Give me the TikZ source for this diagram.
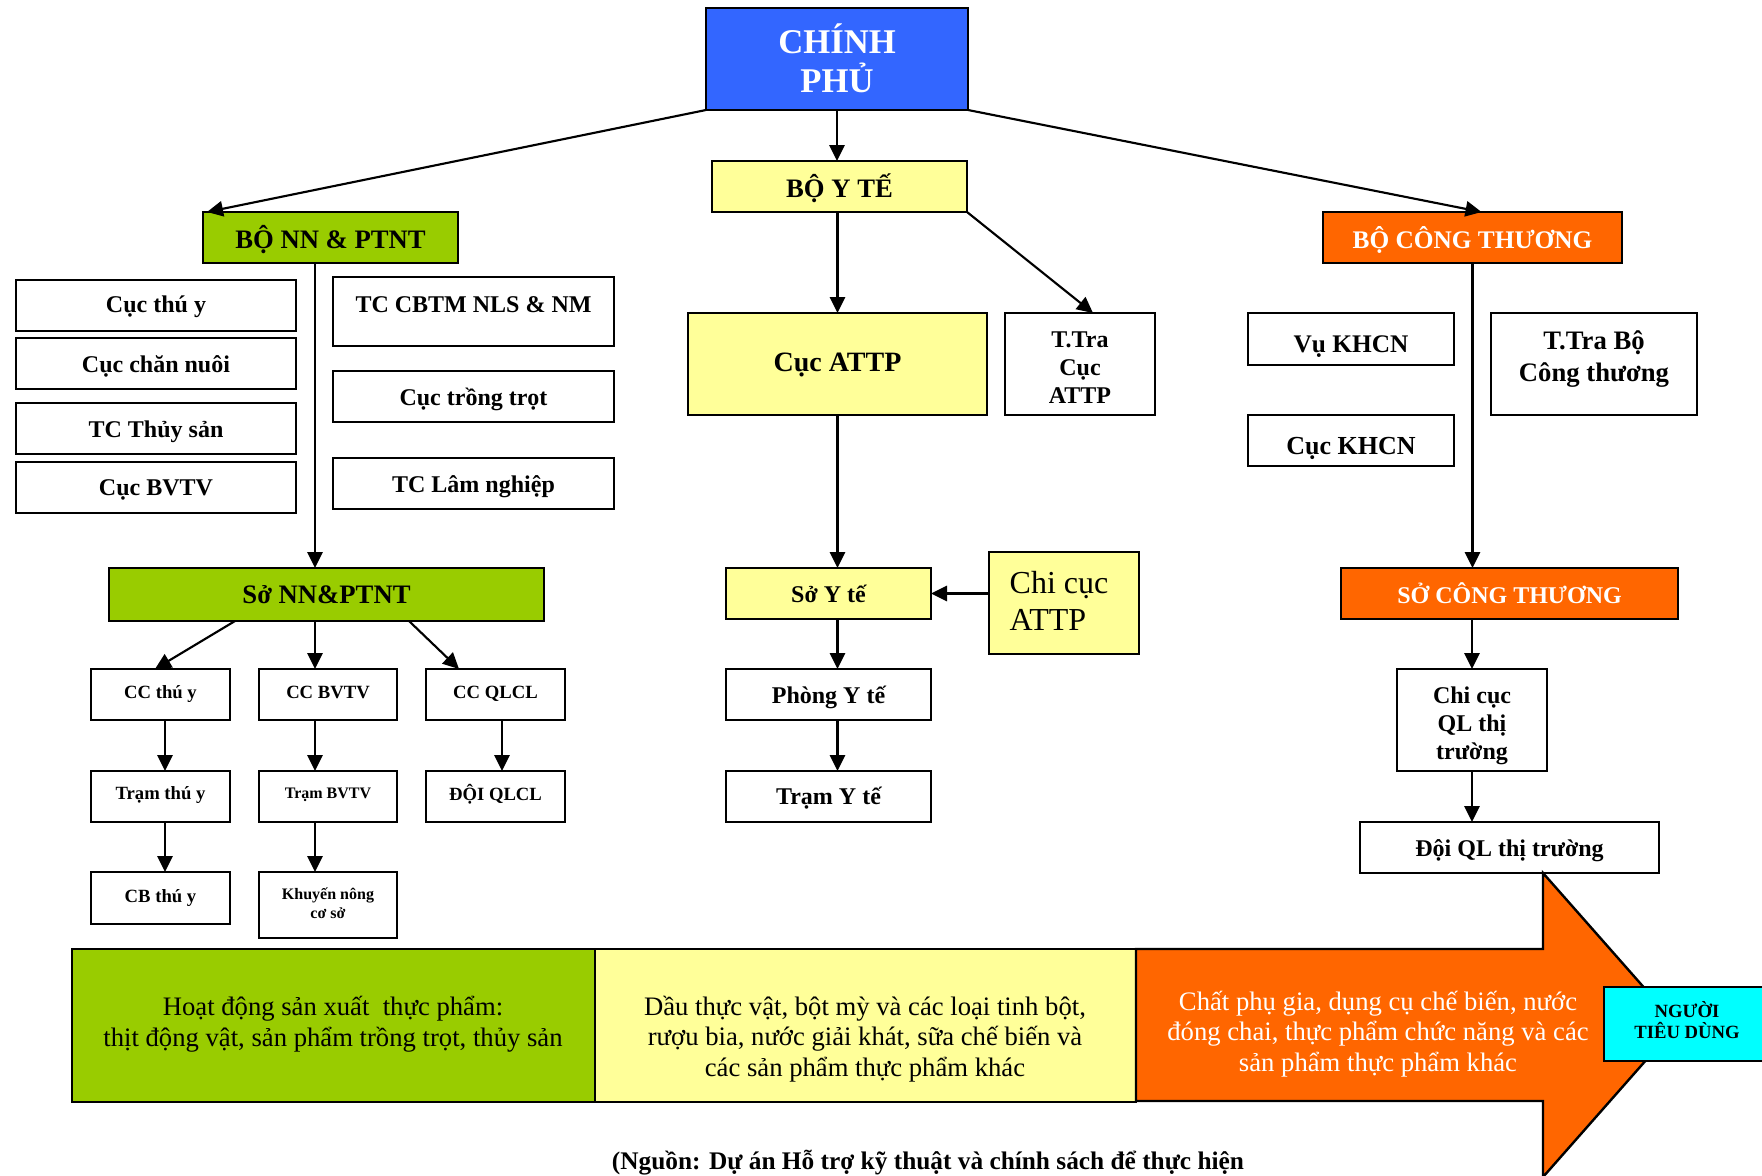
\documentclass[tikz,border=0pt]{standalone}
\usepackage{fontspec}
\setmainfont{Liberation Serif}
\usetikzlibrary{arrows.meta,calc}
\definecolor{cpblue}{HTML}{3366FF}
\definecolor{ylw}{HTML}{FFFF99}
\definecolor{grn}{HTML}{99CC00}
\definecolor{org}{HTML}{FF6600}
\definecolor{cyn}{HTML}{00FFFF}
% \bx[text shift down]{name}{x1}{y1}{x2}{y2}{style}{text}
\newcommand\bx[8][0]{%
  \node[#7, minimum width={(#5-#3)*0.75pt}, minimum height={(#6-#4)*0.75pt}] (#2) at ({(#3+#5)/2},{(#4+#6)/2}) {};
  \node[#7, draw=none, fill=none, minimum width=0pt, minimum height=0pt] (#2t) at ({(#3+#5)/2},{(#4+#6)/2+#1}) {#8};}
\newcommand\fs[2]{\fontsize{#1}{#2}\selectfont}
\begin{document}
\begin{tikzpicture}[x=0.75pt,y=-0.75pt,
  box/.style={draw, line width=1.5pt, inner sep=0pt, outer sep=0pt, align=center, fill=white, font=\bfseries\fs{18}{21}},
  band/.style={draw, line width=1.8pt, inner sep=0pt, outer sep=0pt},
  bandtext/.style={align=center, font=\fs{20}{23}},
  arr/.style={line width=1.6pt, -{Triangle[length=12pt,width=11.5pt]}}]
\useasboundingbox (0,0) rectangle (1762,1175);
\fill[white] (0,0) rectangle (1762,1175);

% top level
\bx[-1]{CP}{706}{8}{968}{110}{box, fill=cpblue, text=white, font=\bfseries\fs{26}{29}}{CHÍNH\\PHỦ}
\bx[2]{BYT}{712}{161}{967}{212}{box, fill=ylw, font=\bfseries\fs{20}{24}}{BỘ Y TẾ}
\bx[2]{BNN}{203}{212}{458}{263}{box, fill=grn, font=\bfseries\fs{20}{24}}{BỘ NN \& PTNT}
\bx[2]{BCT}{1323}{212}{1622}{263}{box, fill=org, text=white, font=\bfseries\fs{19}{23}}{BỘ CÔNG THƯƠNG}

% NN branch
\bx[1]{L1}{16}{280}{296}{331}{box}{Cục thú y}
\bx[3]{L2}{16}{338}{296}{389}{box}{Cục chăn nuôi}
\bx[3]{L3}{16}{403}{296}{454}{box}{TC Thủy sản}
\bx[2]{L4}{16}{462}{296}{513}{box}{Cục BVTV}
\node[box, minimum width={281*0.75pt}, minimum height={69*0.75pt}] (R1) at (473.5,311.5) {};
\node[font=\bfseries\fs{18}{21}, anchor=base, inner sep=0pt] (R1t) at (473.5,312) {TC CBTM NLS \& NM};
\bx[3]{R2}{333}{371}{614}{422}{box}{Cục trồng trọt}
\bx[3]{R3}{333}{458}{614}{509}{box}{TC Lâm nghiệp}

\bx{SNN}{109}{568}{544}{621}{box, fill=grn, font=\bfseries\fs{20}{24}}{Sở NN\&PTNT}
\bx{C1}{91}{669}{230}{720}{box, font=\bfseries\fs{14}{16}}{CC thú y}
\bx[-2]{C2}{259}{669}{397}{720}{box, font=\bfseries\fs{14}{16}}{CC BVTV}
\bx[-1]{C3}{426}{669}{565}{720}{box, font=\bfseries\fs{14}{16}}{CC QLCL}
\bx[-1]{T1}{91}{771}{230}{822}{box, font=\bfseries\fs{14}{16}}{Trạm thú y}
\bx[-2]{T2}{259}{771}{397}{822}{box, font=\bfseries\fs{12}{14}}{Trạm BVTV}
\bx[-2]{T3}{426}{771}{565}{822}{box, font=\bfseries\fs{14}{16}}{ĐỘI QLCL}
\bx{B1}{91}{872}{230}{924}{box, font=\bfseries\fs{14}{16}}{CB thú y}
\bx[-2]{B2}{259}{872}{397}{938}{box, font=\bfseries\fs{12}{14}}{Khuyến nông\\cơ sở}

% Y te branch
\bx[1]{CA}{688}{313}{987}{415}{box, fill=ylw, font=\bfseries\fs{21}{25}}{Cục ATTP}
\bx[4]{TT}{1005}{313}{1155}{415}{box}{T.Tra\\Cục\\ATTP}
\bx{SYT}{726}{568}{931}{619}{box, fill=ylw}{Sở Y tế}
\bx[3]{PYT}{726}{669}{931}{720}{box}{Phòng Y tế}
\bx[2]{TYT}{726}{771}{931}{822}{box}{Trạm Y tế}
\node[box, fill=ylw, minimum width={150*0.75pt}, minimum height={102*0.75pt}] (CCA) at (1064,603) {};
\node[align=left, font=\fs{24}{28}, inner sep=0pt] (CCAt) at (1059,601) {Chi cục\\ATTP};

% Cong thuong branch
\bx[8]{VK}{1248}{313}{1454}{365}{box, font=\bfseries\fs{19}{23}}{Vụ KHCN}
\bx[8]{CK}{1248}{415}{1454}{466}{box, font=\bfseries\fs{19.5}{23}}{Cục KHCN}
\bx[-5]{TB}{1491}{313}{1697}{415}{box, font=\bfseries\fs{20}{24}}{T.Tra Bộ\\Công thương}
\bx{SCT}{1341}{568}{1678}{619}{box, fill=org, text=white}{SỞ CÔNG THƯƠNG}
\bx[6]{CQL}{1397}{669}{1547}{771}{box}{Chi cục\\QL thị\\trường}
\bx[3]{DQL}{1360}{822}{1659}{873}{box}{Đội QL thị trường}

% bottom bands
\node[band, fill=grn, minimum width={523*0.75pt}, minimum height={153*0.75pt}] (G) at (333.5,1025.5) {};
\node[band, fill=ylw, minimum width={541*0.75pt}, minimum height={153*0.75pt}] (Y) at (865.5,1025.5) {};
\draw[band, fill=org] (1136,949) -- (1543,949) -- (1543,873) -- (1677,1025) -- (1543,1177) -- (1543,1101) -- (1136,1101) -- cycle;
\node[bandtext] (Gt) at (333,1024) {Hoạt động sản xuất\ \ thực phẩm:\\thịt động vật, sản phẩm trồng trọt, thủy sản};
\node[bandtext] (Yt) at (865,1039) {Dầu thực vật, bột mỳ và các loại tinh bột,\\rượu bia, nước giải khát, sữa chế biến và\\các sản phẩm thực phẩm khác};
\node[bandtext, text=white] (Ot) at (1378,1034) {Chất phụ gia, dụng cụ chế biến, nước\\đóng chai, thực phẩm chức năng và các\\sản phẩm thực phẩm khác};
\bx[-4]{NTD}{1604}{987}{1770}{1061}{box, fill=cyn, font=\bfseries\fs{14}{16}}{NGƯỜI\\TIÊU DÙNG}

\node[font=\bfseries\fs{19}{22}, anchor=base, inner sep=0pt] (src) at (928,1169) {(Nguồn: Dự án Hỗ trợ kỹ thuật và chính sách để thực hiện};

% connectors
\coordinate (nx) at (315,0);
\coordinate (xa) at (235,0);
\coordinate (xb) at (155,0);
\coordinate (xc) at (409,0);
\coordinate (xd) at (459,0);
\coordinate (xe) at (165,0);
\coordinate (xf) at (502,0);
\draw[arr] (CP.south west) -- ($(BNN.north west)+(4,0)$);
\draw[arr] (CP.south) -- (CP.south |- BYT.north);
\draw[arr] (CP.south east) -- ($(BCT.north)+(9,0)$);
\draw[arr] (CA.north |- BYT.south) -- (CA.north);
\draw[arr] (BYT.south east) -- ($(TT.north)+(13,0)$);
\draw[arr] (BNN.south -| nx) -- (SNN.north -| nx);
\draw[arr] (BCT.south) -- (BCT.south |- SCT.north);
\draw[arr] (CA.south) -- (CA.south |- SYT.north);
\draw[arr] (SYT.south -| CA.south) -- (PYT.north -| CA.south);
\draw[arr] (PYT.south -| CA.south) -- (TYT.north -| CA.south);
\draw[arr] (CCA.west |- SYT.east) -- (SYT.east);
\draw[arr] (CQL.north |- SCT.south) -- (CQL.north);
\draw[arr] (CQL.south) -- (CQL.south |- DQL.north);
\draw[arr] (SNN.south -| xa) -- (C1.north -| xb);
\draw[arr] (SNN.south -| nx) -- (C2.north -| nx);
\draw[arr] (SNN.south -| xc) -- (C3.north -| xd);
\draw[arr] (C1.south -| xe) -- (T1.north -| xe);
\draw[arr] (T1.south -| xe) -- (B1.north -| xe);
\draw[arr] (C2.south -| nx) -- (T2.north -| nx);
\draw[arr] (T2.south -| nx) -- (B2.north -| nx);
\draw[arr] (C3.south -| xf) -- (T3.north -| xf);
\end{tikzpicture}
\end{document}
